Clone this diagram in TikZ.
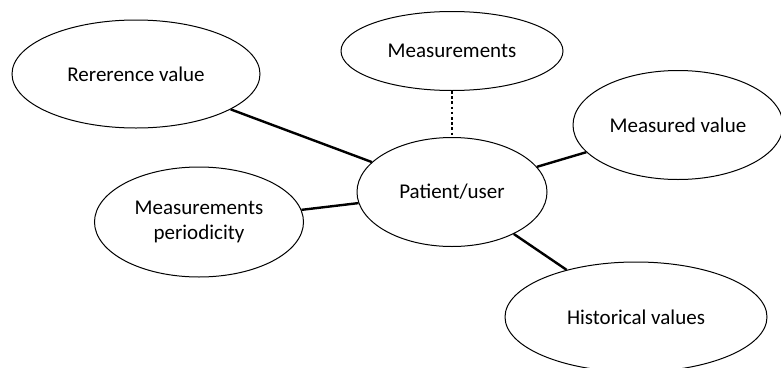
\documentclass[tikz,border=0pt]{standalone}
\usepackage{fontspec}
\setmainfont{Carlito}
\usepackage{tikz}
\usetikzlibrary{
  shapes.geometric
}

\begin{document}
\begin{tikzpicture}[
  x=1pt, y=-1pt,
  topic/.style={
    ellipse,
    draw=black,
    line width=1pt,
    fill=white,
    inner sep=0pt,
    align=center,
    font=\fontsize{21}{25}\selectfont
  },
  link/.style={
    line width=2.4pt
  },
  dotlink/.style={
    line width=2.6pt,
    dash pattern=on 2.6pt off 2.6pt
  }
]

  \useasboundingbox (0,0) rectangle (781,367);

  % the central node
  \node[topic,minimum width=190pt,minimum height=109pt]
    (patient) at (452,192) {Patient/user};

  \node[topic,minimum width=248pt,minimum height=108pt]
    (refval) at (136,74) {Rererence value};

  \node[topic,minimum width=222pt,minimum height=79pt]
    (meas) at (452,51) {Measurements};

  \node[topic,minimum width=210pt,minimum height=109pt]
    (measval) at (678,125) {Measured value};

  \node[topic,minimum width=209pt,minimum height=110pt]
    (period) at (199,222) {Measurements\\periodicity};

  \node[topic,minimum width=262pt,minimum height=110pt]
    (hist) at (636,317) {Historical values};

  \draw[link] (refval) -- (patient);
  \draw[link] (period) -- (patient);
  \draw[link] (patient) -- (measval);
  \draw[link] (patient) -- (hist);
  \draw[dotlink] (meas.south) -- (patient.north);

\end{tikzpicture}
\end{document}
